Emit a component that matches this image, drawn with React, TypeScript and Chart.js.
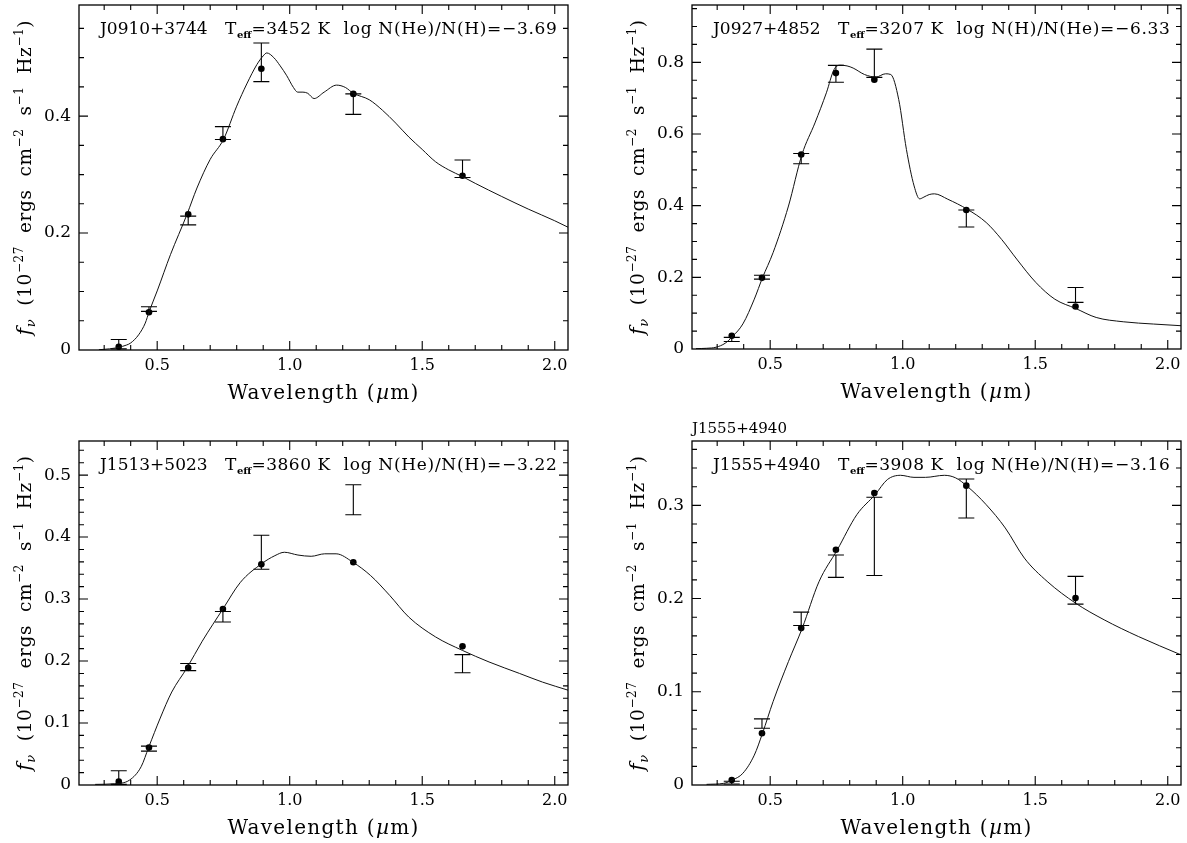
import React, { useEffect, useRef } from 'react';
import { Chart, registerables } from 'chart.js';

Chart.register(...registerables);

// ---------- shared axis data ----------
const FILTER_X = [0.355, 0.469, 0.617, 0.748, 0.893, 1.24, 1.652];
const X_MIN = 0.205;
const X_MAX = 2.05;
const X_TICKS = [0.5, 1.0, 1.5, 2.0];
const X_MINOR_STEP = 0.1;

// ---------- panel 1: J0910+3744 ----------
const P1_NAME = 'J0910+3744';
const P1_TEFF = '3452';
const P1_ABUND = 'log N(He)/N(H)=\u22123.69';
const P1_MODEL_X = [0.28, 0.32, 0.355, 0.385, 0.40, 0.43, 0.455, 0.47, 0.50, 0.55, 0.6125, 0.65, 0.70, 0.75, 0.80, 0.838, 0.876, 0.90, 0.9135, 0.94, 0.964, 0.989, 1.014, 1.03, 1.05, 1.068, 1.092, 1.13, 1.177, 1.21, 1.24, 1.30, 1.35, 1.40, 1.45, 1.50, 1.55, 1.60, 1.65, 1.70, 1.80, 1.90, 2.00, 2.05];
const P1_MODEL_Y = [0.0005, 0.002, 0.0046, 0.0086, 0.012, 0.026, 0.046, 0.066, 0.101, 0.163, 0.232, 0.277, 0.326, 0.36, 0.417, 0.455, 0.488, 0.503, 0.508, 0.50, 0.486, 0.469, 0.449, 0.441, 0.441, 0.439, 0.430, 0.441, 0.453, 0.449, 0.439, 0.428, 0.410, 0.388, 0.364, 0.343, 0.322, 0.308, 0.297, 0.285, 0.2625, 0.241, 0.221, 0.21];
const P1_DOT_Y = [0.0055, 0.0645, 0.232, 0.3606, 0.481, 0.438, 0.298];
const P1_ERR_LO = [0.002, 0.066, 0.214, 0.360, 0.459, 0.403, 0.295];
const P1_ERR_HI = [0.018, 0.074, 0.229, 0.382, 0.525, 0.438, 0.325];
const P1_Y_TICKS = [0, 0.2, 0.4];
const P1_Y_MINOR = 0.05;
const P1_Y_MAX = 0.59;

// ---------- panel 2: J0927+4852 ----------
const P2_NAME = 'J0927+4852';
const P2_TEFF = '3207';
const P2_ABUND = 'log N(H)/N(He)=\u22126.33';
const P2_MODEL_X = [0.22, 0.26, 0.296, 0.33, 0.358, 0.397, 0.44, 0.471, 0.511, 0.569, 0.62, 0.669, 0.712, 0.741, 0.763, 0.79, 0.813, 0.856, 0.899, 0.935, 0.955, 0.985, 1.014, 1.043, 1.064, 1.08, 1.1, 1.12, 1.17, 1.2435, 1.315, 1.373, 1.43, 1.502, 1.574, 1.653, 1.73, 1.832, 1.947, 2.05];
const P2_MODEL_Y = [0.001, 0.002, 0.005, 0.016, 0.035, 0.07, 0.139, 0.199, 0.269, 0.399, 0.543, 0.631, 0.715, 0.78, 0.792, 0.79, 0.784, 0.766, 0.759, 0.768, 0.766, 0.696, 0.557, 0.455, 0.419, 0.424, 0.431, 0.433, 0.418, 0.39, 0.353, 0.306, 0.251, 0.186, 0.139, 0.113, 0.088, 0.076, 0.0696, 0.065];
const P2_DOT_Y = [0.037, 0.1986, 0.543, 0.770, 0.7517, 0.388, 0.1188];
const P2_ERR_LO = [0.021, 0.195, 0.517, 0.7443, 0.758, 0.3406, 0.130];
const P2_ERR_HI = [0.0325, 0.206, 0.5457, 0.7916, 0.837, 0.388, 0.1717];
const P2_Y_TICKS = [0, 0.2, 0.4, 0.6, 0.8];
const P2_Y_MINOR = 0.05;
const P2_Y_MAX = 0.96;

// ---------- panel 3: J1513+5023 ----------
const P3_NAME = 'J1513+5023';
const P3_TEFF = '3860';
const P3_ABUND = 'log N(He)/N(H)=\u22123.22';
const P3_MODEL_X = [0.266, 0.338, 0.396, 0.4394, 0.468, 0.5115, 0.555, 0.6125, 0.67, 0.748, 0.814, 0.894, 0.944, 0.98, 1.031, 1.081, 1.132, 1.175, 1.2385, 1.305, 1.377, 1.449, 1.55, 1.651, 1.752, 1.867, 1.954, 2.05];
const P3_MODEL_Y = [0.001, 0.002, 0.008, 0.0295, 0.061, 0.108, 0.150, 0.189, 0.232, 0.284, 0.327, 0.357, 0.370, 0.3755, 0.371, 0.369, 0.373, 0.373, 0.3594, 0.338, 0.306, 0.271, 0.239, 0.2173, 0.1985, 0.180, 0.166, 0.153];
const P3_DOT_Y = [0.0054, 0.0606, 0.189, 0.284, 0.356, 0.3594, 0.2237];
const P3_ERR_LO = [0.001, 0.0547, 0.1845, 0.263, 0.348, 0.436, 0.181];
const P3_ERR_HI = [0.0231, 0.0628, 0.196, 0.280, 0.403, 0.4844, 0.2103];
const P3_Y_TICKS = [0, 0.1, 0.2, 0.3, 0.4, 0.5];
const P3_Y_MINOR = 0.02;
const P3_Y_MAX = 0.555;

// ---------- panel 4: J1555+4940 ----------
const P4_NAME = 'J1555+4940';
const P4_TEFF = '3908';
const P4_ABUND = 'log N(He)/N(H)=\u22123.16';
const P4_MODEL_X = [0.26, 0.325, 0.358, 0.3967, 0.44, 0.471, 0.511, 0.569, 0.6206, 0.684, 0.7526, 0.827, 0.896, 0.942, 0.992, 1.0426, 1.0856, 1.157, 1.2, 1.2435, 1.315, 1.387, 1.459, 1.545, 1.6526, 1.76, 1.889, 2.05];
const P4_MODEL_Y = [0.0007, 0.0018, 0.0054, 0.0125, 0.032, 0.0555, 0.0895, 0.1325, 0.168, 0.218, 0.252, 0.29, 0.3115, 0.3276, 0.3322, 0.330, 0.330, 0.3322, 0.3294, 0.3204, 0.3007, 0.2757, 0.2434, 0.2184, 0.195, 0.1772, 0.1593, 0.1396];
const P4_DOT_Y = [0.0054, 0.0555, 0.1683, 0.2524, 0.3133, 0.3211, 0.2005];
const P4_ERR_LO = [0.001, 0.0609, 0.1711, 0.2227, 0.2248, 0.2864, 0.194];
const P4_ERR_HI = [0.004, 0.0709, 0.1854, 0.2467, 0.3086, 0.3283, 0.2238];
const P4_Y_TICKS = [0, 0.1, 0.2, 0.3];
const P4_Y_MINOR = 0.02;
const P4_Y_MAX = 0.369;
const P4_TOP_LABEL = 'J1555+4940';

// ---------- layout / style ----------
const FONT = '"DejaVu Serif", "Liberation Serif", serif';
const X_AXIS_H = 30;

type Panel = {
  name: string; teff: string; abund: string;
  modelX: number[]; modelY: number[]; dotY: number[]; errLo: number[]; errHi: number[];
  yTicks: number[]; yMinor: number; yMax: number; topLabel?: string;
  box: { x: number; y: number; w: number; h: number };
  area: { left: number; top: number; right: number; bottom: number };
};

const PANELS: Panel[] = [
  { name: P1_NAME, teff: P1_TEFF, abund: P1_ABUND, modelX: P1_MODEL_X, modelY: P1_MODEL_Y, dotY: P1_DOT_Y, errLo: P1_ERR_LO, errHi: P1_ERR_HI, yTicks: P1_Y_TICKS, yMinor: P1_Y_MINOR, yMax: P1_Y_MAX,
    box: { x: 0, y: 0, w: 593, h: 421 }, area: { left: 79, top: 5, right: 568, bottom: 350 } },
  { name: P2_NAME, teff: P2_TEFF, abund: P2_ABUND, modelX: P2_MODEL_X, modelY: P2_MODEL_Y, dotY: P2_DOT_Y, errLo: P2_ERR_LO, errHi: P2_ERR_HI, yTicks: P2_Y_TICKS, yMinor: P2_Y_MINOR, yMax: P2_Y_MAX,
    box: { x: 593, y: 0, w: 594, h: 421 }, area: { left: 99, top: 5, right: 588, bottom: 349 } },
  { name: P3_NAME, teff: P3_TEFF, abund: P3_ABUND, modelX: P3_MODEL_X, modelY: P3_MODEL_Y, dotY: P3_DOT_Y, errLo: P3_ERR_LO, errHi: P3_ERR_HI, yTicks: P3_Y_TICKS, yMinor: P3_Y_MINOR, yMax: P3_Y_MAX,
    box: { x: 0, y: 421, w: 593, h: 422 }, area: { left: 79, top: 20, right: 568, bottom: 364 } },
  { name: P4_NAME, teff: P4_TEFF, abund: P4_ABUND, modelX: P4_MODEL_X, modelY: P4_MODEL_Y, dotY: P4_DOT_Y, errLo: P4_ERR_LO, errHi: P4_ERR_HI, yTicks: P4_Y_TICKS, yMinor: P4_Y_MINOR, yMax: P4_Y_MAX, topLabel: P4_TOP_LABEL,
    box: { x: 593, y: 421, w: 594, h: 422 }, area: { left: 99, top: 20, right: 588, bottom: 364 } },
];

type Run = { t?: string; f?: string; dy?: number; ls?: number; gap?: number };

function setLS(ctx: CanvasRenderingContext2D, v: number) {
  (ctx as any).letterSpacing = v + 'px';
}
function runsWidth(ctx: CanvasRenderingContext2D, runs: Run[]) {
  let w = 0;
  for (const r of runs) {
    if (r.gap) { w += r.gap; continue; }
    ctx.font = r.f as string; setLS(ctx, r.ls || 0);
    w += ctx.measureText(r.t as string).width;
  }
  setLS(ctx, 0);
  return w;
}
function drawRuns(ctx: CanvasRenderingContext2D, runs: Run[], x: number, y: number) {
  let cx = x;
  ctx.textBaseline = 'alphabetic';
  ctx.textAlign = 'left';
  for (const r of runs) {
    if (r.gap) { cx += r.gap; continue; }
    ctx.font = r.f as string; setLS(ctx, r.ls || 0);
    ctx.fillText(r.t as string, cx, y + (r.dy || 0));
    cx += ctx.measureText(r.t as string).width;
  }
  setLS(ctx, 0);
}

function makeDecor(p: Panel) {
  return {
    id: 'decor',
    beforeDatasetsDraw(chart: any) {
      const { ctx, scales: { x, y } } = chart;
      ctx.save();
      ctx.strokeStyle = '#000';
      ctx.lineWidth = 1.1;
      FILTER_X.forEach((fx, i) => {
        const px = x.getPixelForValue(fx);
        const yl = y.getPixelForValue(p.errLo[i]);
        const yh = y.getPixelForValue(p.errHi[i]);
        ctx.beginPath();
        ctx.moveTo(px, yl); ctx.lineTo(px, yh);
        ctx.moveTo(px - 8, yl); ctx.lineTo(px + 8, yl);
        ctx.moveTo(px - 8, yh); ctx.lineTo(px + 8, yh);
        ctx.stroke();
      });
      ctx.restore();
    },
    afterDraw(chart: any) {
      const { ctx, chartArea: a, scales: { x, y } } = chart;
      ctx.save();
      ctx.strokeStyle = '#000';
      ctx.fillStyle = '#000';
      ctx.lineWidth = 1.3;
      ctx.strokeRect(a.left, a.top, a.right - a.left, a.bottom - a.top);
      ctx.lineWidth = 1.1;
      ctx.beginPath();
      for (let k = 1; k * X_MINOR_STEP <= X_MAX + 1e-9; k++) {
        const v = k * X_MINOR_STEP;
        if (v < X_MIN) continue;
        const major = X_TICKS.some((t) => Math.abs(t - v) < 1e-6);
        const len = major ? 9 : 5;
        const px = x.getPixelForValue(v);
        ctx.moveTo(px, a.bottom); ctx.lineTo(px, a.bottom - len);
        ctx.moveTo(px, a.top); ctx.lineTo(px, a.top + len);
      }
      for (let k = 1; k * p.yMinor <= p.yMax + 1e-9; k++) {
        const v = k * p.yMinor;
        const major = p.yTicks.some((t) => Math.abs(t - v) < 1e-6);
        const len = major ? 9 : 5;
        const py = y.getPixelForValue(v);
        ctx.moveTo(a.left, py); ctx.lineTo(a.left + len, py);
        ctx.moveTo(a.right, py); ctx.lineTo(a.right - len, py);
      }
      ctx.stroke();

      // annotation
      const main = `17px ${FONT}`;
      drawRuns(ctx, [
        { t: p.name, f: main },
        { gap: 17.5 },
        { t: 'T', f: main, ls: 0.5 },
        { t: 'eff', f: `bold 10px ${FONT}`, dy: 4 },
        { t: '=' + p.teff + ' K', f: main, ls: 0.5 },
        { gap: 13 },
        { t: p.abund, f: main, ls: 0.7 },
      ], a.left + 21, a.top + 29);

      if (p.topLabel) {
        drawRuns(ctx, [{ t: p.topLabel, f: `15px ${FONT}` }], a.left, a.top - 8);
      }

      // x title
      const xr: Run[] = [
        { t: 'Wavelength (', f: `20px ${FONT}`, ls: 1.3 },
        { t: '\u00b5', f: `italic 20px ${FONT}`, ls: 1.3 },
        { t: 'm)', f: `20px ${FONT}`, ls: 1.3 },
      ];
      const xw = runsWidth(ctx, xr);
      drawRuns(ctx, xr, (a.left + a.right) / 2 - xw / 2, a.bottom + 49);

      // y title (rotated)
      const big = `18.5px ${FONT}`;
      const sup = `12px ${FONT}`;
      const L = 0.6;
      const yr: Run[] = [
        { t: 'f', f: `italic 20px ${FONT}`, ls: L },
        { t: '\u03bd', f: `italic 13px ${FONT}`, dy: 4, ls: L },
        { t: '  (10', f: big, ls: L },
        { t: '\u221227', f: sup, dy: -8, ls: L },
        { t: '  ergs  cm', f: big, ls: L },
        { t: '\u22122', f: sup, dy: -8, ls: L },
        { t: '  s', f: big, ls: L },
        { t: '\u22121', f: sup, dy: -8, ls: L },
        { t: '  Hz', f: big, ls: L },
        { t: '\u22121', f: sup, dy: -8, ls: L },
        { t: ')', f: big, ls: L },
      ];
      const yw = runsWidth(ctx, yr);
      ctx.translate(a.left - 48, (a.top + a.bottom) / 2);
      ctx.rotate(-Math.PI / 2);
      drawRuns(ctx, yr, -yw / 2, 0);
      ctx.restore();
    },
  };
}

function PanelChart({ panel }: { panel: Panel }) {
  const ref = useRef<HTMLCanvasElement>(null);
  useEffect(() => {
    const p = panel;
    const chart = new Chart(ref.current as HTMLCanvasElement, {
      type: 'scatter',
      data: {
        datasets: [
          {
            label: 'model',
            data: p.modelX.map((v, i) => ({ x: v, y: p.modelY[i] })),
            showLine: true,
            pointRadius: 0,
            borderColor: '#111',
            borderWidth: 1,
            cubicInterpolationMode: 'monotone',
          } as any,
          {
            label: 'photometry',
            data: FILTER_X.map((v, i) => ({ x: v, y: p.dotY[i] })),
            showLine: false,
            pointRadius: 3.3,
            pointBackgroundColor: '#000',
            pointBorderWidth: 0,
          } as any,
        ],
      },
      options: {
        responsive: false,
        animation: false,
        events: [],
        layout: {
          padding: {
            left: 0,
            top: p.area.top,
            right: p.box.w - p.area.right,
            bottom: p.box.h - p.area.bottom - X_AXIS_H,
          },
        },
        plugins: { legend: { display: false }, tooltip: { enabled: false } },
        scales: {
          x: {
            type: 'linear',
            min: X_MIN,
            max: X_MAX,
            afterBuildTicks: (s: any) => { s.ticks = X_TICKS.map((v) => ({ value: v })); },
            afterFit: (s: any) => { s.height = X_AXIS_H; s.paddingLeft = 0; s.paddingRight = 0; s.paddingTop = 0; s.paddingBottom = 0; },
            ticks: {
              autoSkip: false,
              maxRotation: 0,
              padding: 6,
              color: '#000',
              font: { family: FONT, size: 16 },
              callback: (v: any) => Number(v).toFixed(1),
            },
            grid: { display: false, drawTicks: false },
            border: { display: false },
          },
          y: {
            type: 'linear',
            min: 0,
            max: p.yMax,
            afterBuildTicks: (s: any) => { s.ticks = p.yTicks.map((v) => ({ value: v })); },
            afterFit: (s: any) => { s.width = p.area.left; s.paddingTop = 0; s.paddingBottom = 0; s.paddingLeft = 0; s.paddingRight = 0; },
            ticks: {
              autoSkip: false,
              padding: 8,
              color: '#000',
              font: { family: FONT, size: 17 },
              callback: (v: any) => (Number(v) === 0 ? '0' : Number(v).toFixed(1)),
            },
            grid: { display: false, drawTicks: false },
            border: { display: false },
          },
        },
      } as any,
      plugins: [makeDecor(p)],
    });
    return () => chart.destroy();
  }, [panel]);
  return (
    <canvas
      ref={ref}
      width={panel.box.w}
      height={panel.box.h}
      style={{ position: 'absolute', left: panel.box.x, top: panel.box.y, width: panel.box.w, height: panel.box.h }}
    />
  );
}

export default function App() {
  return (
    <div style={{ position: 'fixed', left: 0, top: 0, width: 1187, height: 843, background: '#fff' }}>
      {PANELS.map((p, i) => (
        <PanelChart key={i} panel={p} />
      ))}
    </div>
  );
}
